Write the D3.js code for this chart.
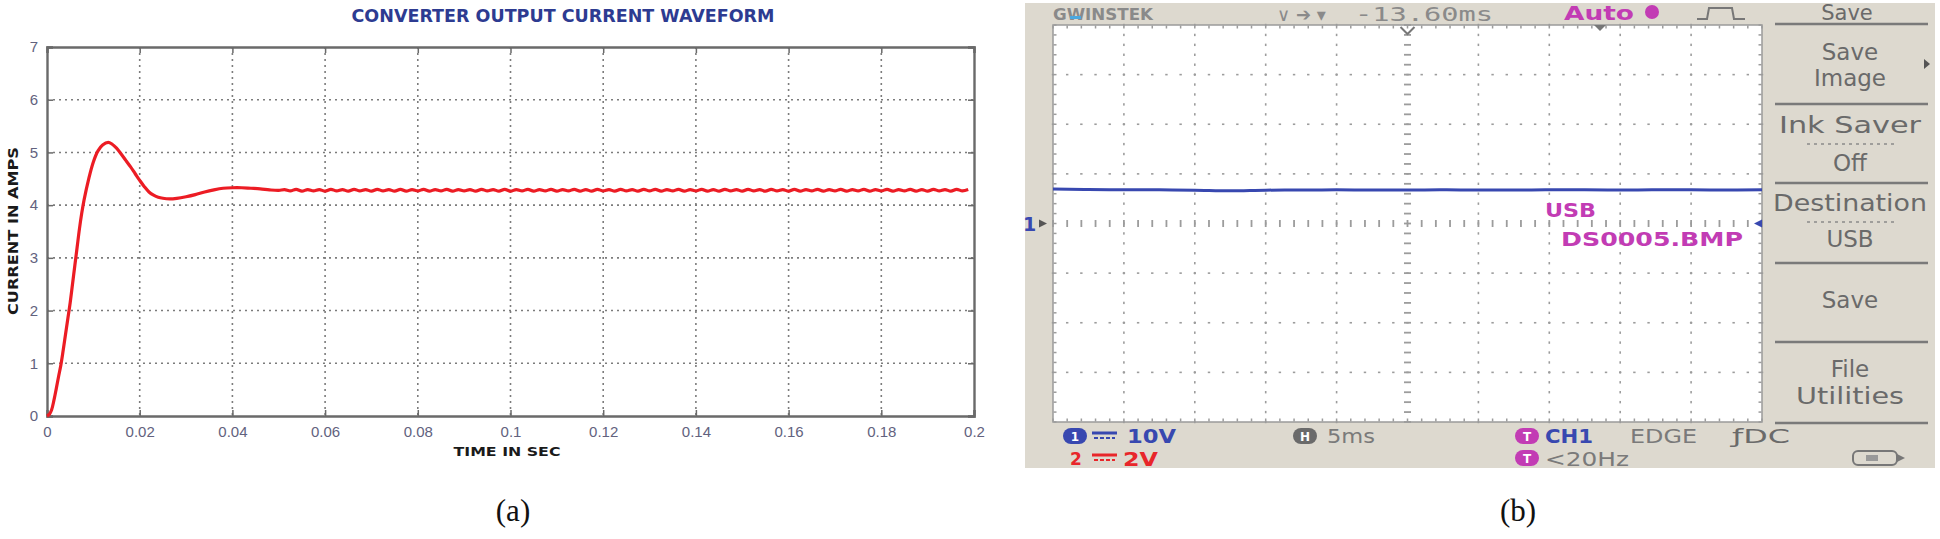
<!DOCTYPE html>
<html><head><meta charset="utf-8">
<script src="https://cdn.jsdelivr.net/npm/d3@7"></script>
<style>body{margin:0;background:#fff;} svg{display:block;}</style>
</head><body>
<svg id="c" width="1940" height="539"></svg>
<script>
// ---------------- DATA ----------------
const chartTitle = "CONVERTER OUTPUT CURRENT WAVEFORM";
const xLabel = "TIME IN SEC";
const yLabel = "CURRENT IN AMPS";
const xTicks = [0, 0.02, 0.04, 0.06, 0.08, 0.1, 0.12, 0.14, 0.16, 0.18, 0.2];
const xTickLabels = ["0", "0.02", "0.04", "0.06", "0.08", "0.1", "0.12", "0.14", "0.16", "0.18", "0.2"];
const yTicks = [0, 1, 2, 3, 4, 5, 6, 7];
const yTickLabels = ["0", "1", "2", "3", "4", "5", "6", "7"];

// start-up transient (time in s, current in A)
const transientT = [0, 0.0005, 0.001, 0.0015, 0.002, 0.0025, 0.003, 0.0035, 0.004, 0.0045, 0.005, 0.0055, 0.006, 0.0065, 0.007, 0.0075, 0.008, 0.009, 0.010, 0.011, 0.012, 0.0132, 0.014, 0.015, 0.016, 0.017, 0.018, 0.019, 0.020, 0.021, 0.022, 0.023, 0.024, 0.025, 0.0265, 0.028, 0.030, 0.032, 0.034, 0.036, 0.038, 0.040, 0.042, 0.044, 0.046, 0.048, 0.050];
const transientI = [0, 0.03, 0.12, 0.3, 0.52, 0.75, 0.97, 1.25, 1.55, 1.85, 2.15, 2.5, 2.85, 3.2, 3.55, 3.85, 4.1, 4.5, 4.82, 5.03, 5.14, 5.19, 5.16, 5.08, 4.97, 4.85, 4.73, 4.6, 4.47, 4.35, 4.25, 4.19, 4.15, 4.13, 4.12, 4.13, 4.16, 4.2, 4.25, 4.29, 4.32, 4.33, 4.33, 4.32, 4.31, 4.29, 4.28];
// steady-state ripple, sampled every rippleDt seconds from rippleT0
const rippleT0 = 0.05125, rippleDt = 0.00125;
const rippleI = [
 4.295,4.27,4.30,4.265,4.295,4.27,4.295,4.265,4.30,4.27,4.295,4.265,4.30,4.27,4.295,4.265,
 4.30,4.27,4.295,4.265,4.30,4.265,4.295,4.27,4.30,4.265,4.295,4.27,4.30,4.265,4.295,4.27,
 4.295,4.265,4.30,4.27,4.295,4.265,4.30,4.265,4.295,4.27,4.30,4.265,4.295,4.27,4.30,4.265,
 4.295,4.27,4.30,4.265,4.295,4.265,4.30,4.27,4.295,4.265,4.30,4.27,4.295,4.265,4.30,4.27,
 4.30,4.265,4.295,4.27,4.30,4.265,4.295,4.27,4.30,4.265,4.295,4.265,4.30,4.27,4.295,4.265,
 4.30,4.27,4.295,4.265,4.30,4.27,4.295,4.265,4.30,4.265,4.295,4.27,4.30,4.265,4.295,4.27,
 4.30,4.265,4.295,4.27,4.30,4.265,4.295,4.27,4.30,4.265,4.295,4.27,4.30,4.265,4.295,4.265,
 4.30,4.27,4.295,4.265,4.30,4.27,4.295
];

// oscilloscope capture: CH1 trace (time ms across screen, volts)
const scopeT = [0, 2.5, 5, 7.5, 10, 12.5, 15, 17.5, 20, 22.5, 25, 27.5, 30, 32.5, 35, 37.5, 40, 42.5, 45, 47.5, 50];
const scopeV = [6.95, 6.85, 6.8, 6.78, 6.72, 6.6, 6.72, 6.75, 6.78, 6.75, 6.75, 6.8, 6.75, 6.75, 6.8, 6.78, 6.75, 6.8, 6.78, 6.76, 6.8];
const scopeMenuTitle = "Save";
const scopeMenu = [["Save", "Image"], ["Ink Saver", "Off"], ["Destination", "USB"], ["Save"], ["File", "Utilities"]];
const panelLabels = ["(a)", "(b)"];

// ---------------- DRAW ----------------
const svg = d3.select("#c");
svg.append("rect").attr("width", 1940).attr("height", 539).attr("fill", "#fff");

// ===== Panel (a) =====
const x = d3.scaleLinear().domain([0, 0.2]).range([47, 974]);
const y = d3.scaleLinear().domain([0, 7]).range([416, 47]);
const ga = svg.append("g");

// grid
ga.append("g").selectAll("line").data(xTicks.slice(1, -1)).join("line")
  .attr("x1", d => x(d)).attr("x2", d => x(d)).attr("y1", y(7)).attr("y2", y(0))
  .attr("stroke", "#7c7c7c").attr("stroke-width", 1.6).attr("stroke-dasharray", "2,4");
ga.append("g").selectAll("line").data(yTicks.slice(1, -1)).join("line")
  .attr("x1", x(0)).attr("x2", x(0.2)).attr("y1", d => y(d)).attr("y2", d => y(d))
  .attr("stroke", "#7c7c7c").attr("stroke-width", 1.6).attr("stroke-dasharray", "2,4");

// axes (inner ticks, MATLAB style)
const axB = ga.append("g").attr("transform", `translate(0,${y(0)})`)
  .call(d3.axisBottom(x).tickValues(xTicks).tickFormat((d, i) => xTickLabels[i]).tickSize(-6).tickPadding(10));
const axT = ga.append("g").attr("transform", `translate(0,${y(7)})`)
  .call(d3.axisTop(x).tickValues(xTicks).tickFormat("").tickSize(-6));
const axL = ga.append("g").attr("transform", `translate(${x(0)},0)`)
  .call(d3.axisLeft(y).tickValues(yTicks).tickFormat((d, i) => yTickLabels[i]).tickSize(-6).tickPadding(9));
const axR = ga.append("g").attr("transform", `translate(${x(0.2)},0)`)
  .call(d3.axisRight(y).tickValues(yTicks).tickFormat("").tickSize(-6));
[axB, axT, axL, axR].forEach(a => {
  a.select(".domain").attr("stroke", "#6a6a6a").attr("stroke-width", 2.4);
  a.selectAll(".tick line").attr("stroke", "#6a6a6a").attr("stroke-width", 1.5);
  a.selectAll("text").attr("fill", "#62627e").attr("font-family", "Liberation Sans, Arial, sans-serif")
    .attr("font-size", 15);
});

// line
const pts = transientT.map((t, i) => [t, transientI[i]])
  .concat(rippleI.map((v, i) => [rippleT0 + i * rippleDt, v]));
ga.append("path").datum(pts)
  .attr("fill", "none").attr("stroke", "#ec1c24").attr("stroke-width", 3.2)
  .attr("stroke-linejoin", "round")
  .attr("d", d3.line().x(d => x(d[0])).y(d => y(d[1])).curve(d3.curveCatmullRom.alpha(0.5)));

// titles
ga.append("text").attr("x", 563).attr("y", 22).attr("text-anchor", "middle")
  .attr("font-family", "DejaVu Sans, Verdana, sans-serif").attr("font-weight", "bold")
  .attr("font-size", 17).attr("fill", "#2d3b91")
  .attr("textLength", 423).attr("lengthAdjust", "spacingAndGlyphs").text(chartTitle);
ga.append("text").attr("x", 507).attr("y", 456).attr("text-anchor", "middle")
  .attr("font-family", "DejaVu Sans, Verdana, sans-serif").attr("font-weight", "bold")
  .attr("font-size", 13).attr("fill", "#1a1a1a")
  .attr("textLength", 107).attr("lengthAdjust", "spacingAndGlyphs").text(xLabel);
ga.append("text").attr("transform", "translate(18,231) rotate(-90)").attr("text-anchor", "middle")
  .attr("font-family", "DejaVu Sans, Verdana, sans-serif").attr("font-weight", "bold")
  .attr("font-size", 14).attr("fill", "#1a1a1a")
  .attr("textLength", 168).attr("lengthAdjust", "spacingAndGlyphs").text(yLabel);

// ===== Panel (b): oscilloscope screen =====
const gb = svg.append("g");
const sx = d3.scaleLinear().domain([0, 50]).range([1053, 1762]);
const sy = d3.scaleLinear().domain([-40, 40]).range([422, 25]);
const gray = "#6a6a6a", blue = "#3848b0", mag = "#c23cb4", red = "#e8262a";
const scopeFont = "DejaVu Sans, Verdana, sans-serif";

gb.append("rect").attr("x", 1025).attr("y", 3).attr("width", 910).attr("height", 465).attr("fill", "#ddd9cf");
gb.append("rect").attr("x", sx(0)).attr("y", sy(40)).attr("width", sx(50) - sx(0)).attr("height", sy(-40) - sy(40))
  .attr("fill", "#fff").attr("stroke", "#9a9a9a").attr("stroke-width", 1.5);

const majX = sx.ticks(10), majV = sy.ticks(8), minX = sx.ticks(50), minV = sy.ticks(40);
const dots = [];
majX.filter(d => d > 0 && d < 50 && d !== 25).forEach(mx => minV.forEach(v => dots.push([sx(mx), sy(v), 1.6, 2.4])));
majV.filter(d => d > -40 && d < 40 && d !== 0).forEach(mv => minX.forEach(t => dots.push([sx(t), sy(mv), 2.4, 1.6])));
// border ticks
minX.forEach(t => { dots.push([sx(t), sy(40) + 2, 1.5, 3]); dots.push([sx(t), sy(-40) - 2, 1.5, 3]); });
minV.forEach(v => { dots.push([sx(0) + 2, sy(v), 3, 1.5]); dots.push([sx(50) - 2, sy(v), 3, 1.5]); });
// centre lines ticks
minV.forEach(v => dots.push([sx(25), sy(v), 7, 1.8]));
minX.forEach(t => dots.push([sx(t), sy(0), 1.8, 7]));
gb.append("g").selectAll("rect").data(dots).join("rect")
  .attr("x", d => d[0] - d[2] / 2).attr("y", d => d[1] - d[3] / 2)
  .attr("width", d => d[2]).attr("height", d => d[3]).attr("fill", "#9c9c9c");

// trace
gb.append("path").datum(scopeT.map((t, i) => [t, scopeV[i]]))
  .attr("fill", "none").attr("stroke", blue).attr("stroke-width", 3)
  .attr("d", d3.line().x(d => sx(d[0])).y(d => sy(d[1])).curve(d3.curveMonotoneX));

// ground marker "1 ▸" and right marker
gb.append("text").attr("x", 1023).attr("y", sy(0) + 7).attr("font-family", scopeFont).attr("font-weight", "bold")
  .attr("font-size", 19).attr("fill", blue).text("1");
gb.append("path").attr("d", `M1039,${sy(0) - 4}L1047,${sy(0)}L1039,${sy(0) + 4}Z`).attr("fill", "#555");
gb.append("path").attr("d", `M1762,${sy(0) - 4}L1754,${sy(0)}L1762,${sy(0) + 4}Z`).attr("fill", blue);

// trigger markers
gb.append("path").attr("d", `M${sx(25) - 7},27L${sx(25)},34L${sx(25) + 7},27`).attr("fill", "none").attr("stroke", "#777").attr("stroke-width", 2);
gb.append("path").attr("d", `M1594,25L1600,31L1606,25Z`).attr("fill", "#777");

// header
gb.append("text").attr("x", 1053).attr("y", 20).attr("font-family", scopeFont).attr("font-weight", "bold")
  .attr("font-size", 15).attr("fill", "#8a8a8a").attr("textLength", 100).attr("lengthAdjust", "spacingAndGlyphs").text("GWINSTEK");
gb.append("rect").attr("x", 1070).attr("y", 16).attr("width", 11).attr("height", 3).attr("fill", "#4aa8e0");
gb.append("text").attr("x", 1277).attr("y", 21).attr("font-family", scopeFont).attr("font-size", 18).attr("fill", "#8a8a8a").text("∨ ➔ ▾");
gb.append("text").attr("x", 1355).attr("y", 21).attr("font-family", "DejaVu Sans Mono, monospace").attr("font-size", 20)
  .attr("fill", "#8a8a8a").attr("textLength", 138).attr("lengthAdjust", "spacingAndGlyphs").text("-13.60ms");
gb.append("text").attr("x", 1564).attr("y", 20).attr("font-family", scopeFont).attr("font-weight", "bold").attr("font-size", 19)
  .attr("fill", mag).attr("textLength", 70).attr("lengthAdjust", "spacingAndGlyphs").text("Auto");
gb.append("circle").attr("cx", 1652).attr("cy", 12).attr("r", 7).attr("fill", mag);
gb.append("path").attr("d", "M1697,19L1707,19L1709,8L1732,8L1734,19L1745,19").attr("fill", "none").attr("stroke", "#777").attr("stroke-width", 2);

// menu
gb.append("text").attr("x", 1847).attr("y", 20).attr("text-anchor", "middle").attr("font-family", scopeFont)
  .attr("font-size", 21).attr("fill", gray).text(scopeMenuTitle);
const sepY = [24, 104, 183, 263, 342, 423];
gb.append("g").selectAll("line").data(sepY).join("line").attr("x1", 1775).attr("x2", 1928)
  .attr("y1", d => d).attr("y2", d => d).attr("stroke", "#7a7a7a").attr("stroke-width", 2.5);
const menuLineY = [[52, 78], [125, 163], [203, 239], [300], [369, 396]];
scopeMenu.forEach((lines, i) => {
  lines.forEach((s, j) => {
    const t = gb.append("text").attr("x", 1850).attr("y", menuLineY[i][j] + 8).attr("text-anchor", "middle")
      .attr("font-family", scopeFont).attr("font-size", 23).attr("fill", gray).text(s);
    if (s === "Destination") t.attr("textLength", 154).attr("lengthAdjust", "spacingAndGlyphs");
    if (s === "Ink Saver") t.attr("textLength", 142).attr("lengthAdjust", "spacingAndGlyphs");
    if (s === "Utilities") t.attr("textLength", 108).attr("lengthAdjust", "spacingAndGlyphs");
  });
});
[144, 222].forEach(yy => gb.append("line").attr("x1", 1807).attr("x2", 1895).attr("y1", yy).attr("y2", yy)
  .attr("stroke", "#8a8a8a").attr("stroke-width", 1.5).attr("stroke-dasharray", "3,4"));
gb.append("path").attr("d", "M1924,59L1930,64L1924,69Z").attr("fill", "#555");

// in-screen texts
gb.append("text").attr("x", 1545).attr("y", 217).attr("font-family", scopeFont).attr("font-weight", "bold").attr("font-size", 19)
  .attr("fill", mag).attr("textLength", 51).attr("lengthAdjust", "spacingAndGlyphs").text("USB");
gb.append("text").attr("x", 1561).attr("y", 246).attr("font-family", scopeFont).attr("font-weight", "bold").attr("font-size", 19)
  .attr("fill", mag).attr("textLength", 182).attr("lengthAdjust", "spacingAndGlyphs").text("DS0005.BMP");

// status bar
function pill(cx, cy, col, label) {
  gb.append("rect").attr("x", cx - 12).attr("y", cy - 8).attr("width", 24).attr("height", 16).attr("rx", 8).attr("fill", col);
  gb.append("text").attr("x", cx).attr("y", cy + 5).attr("text-anchor", "middle").attr("font-family", scopeFont)
    .attr("font-weight", "bold").attr("font-size", 12).attr("fill", "#fff").text(label);
}
function dcSym(x0, cy, col) {
  gb.append("line").attr("x1", x0).attr("x2", x0 + 25).attr("y1", cy - 3).attr("y2", cy - 3).attr("stroke", col).attr("stroke-width", 3);
  gb.append("line").attr("x1", x0 + 2).attr("x2", x0 + 23).attr("y1", cy + 2).attr("y2", cy + 2).attr("stroke", col).attr("stroke-width", 2).attr("stroke-dasharray", "4,2");
}
function stxt(x0, yb, col, s, len, bold) {
  const t = gb.append("text").attr("x", x0).attr("y", yb).attr("font-family", scopeFont).attr("font-size", 20)
    .attr("fill", col).text(s);
  if (bold) t.attr("font-weight", "bold");
  if (len) t.attr("textLength", len).attr("lengthAdjust", "spacingAndGlyphs");
}
pill(1075, 436, blue, "1"); dcSym(1092, 436, blue); stxt(1127, 443, blue, "10V", 49, true);
gb.append("text").attr("x", 1070).attr("y", 465).attr("font-family", scopeFont).attr("font-weight", "bold").attr("font-size", 17).attr("fill", red).text("2");
dcSym(1092, 458, red); stxt(1123, 466, red, "2V", 35, true);
pill(1305, 436, "#6a6a6a", "H"); stxt(1327, 443, "#7a7a7a", "5ms", 48, false);
pill(1527, 436, mag, "T"); stxt(1545, 443, blue, "CH1", 48, true);
stxt(1630, 443, "#7a7a7a", "EDGE", 67, false);
stxt(1732, 443, "#6a6a6a", "ƒDC", 58, false);
pill(1527, 458, mag, "T"); stxt(1545, 466, "#7a7a7a", "<20Hz", 84, false);
gb.append("rect").attr("x", 1853).attr("y", 451).attr("width", 44).attr("height", 14).attr("rx", 5).attr("fill", "none").attr("stroke", "#777").attr("stroke-width", 2);
gb.append("path").attr("d", "M1897,454L1905,458L1897,462Z").attr("fill", "#777");
gb.append("rect").attr("x", 1866).attr("y", 455).attr("width", 12).attr("height", 6).attr("fill", "#999");

// panel labels
svg.selectAll("text.pl").data(panelLabels).join("text").attr("class", "pl")
  .attr("x", (d, i) => i === 0 ? 513 : 1518).attr("y", 521).attr("text-anchor", "middle")
  .attr("font-family", "Liberation Serif, Times New Roman, serif").attr("font-size", 31).attr("fill", "#111").text(d => d);
</script>
</body></html>
